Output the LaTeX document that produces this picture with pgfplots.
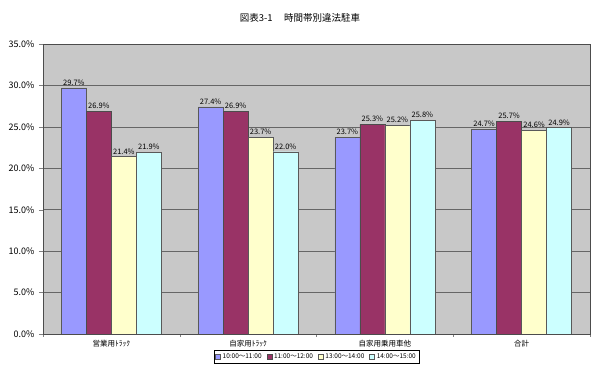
\documentclass[border=0pt]{standalone}
\usepackage{fontspec}
\setmainfont{Noto Sans CJK JP}
\usepackage{pgfplots}
\pgfplotsset{compat=1.18}
\usetikzlibrary{calc}
\definecolor{c1}{HTML}{9999FF}
\definecolor{c2}{HTML}{993366}
\definecolor{c3}{HTML}{FFFFCC}
\definecolor{c4}{HTML}{CCFFFF}
\definecolor{bg}{HTML}{C8C8C8}
\begin{document}
\begin{tikzpicture}
\begin{axis}[
  scale only axis, width=547pt, height=290pt,
  ymin=0, ymax=35, ytick={0,5,...,35},
  yticklabel={\pgfmathprintnumber[fixed,fixed zerofill,precision=1]{\tick}\%},
  yticklabel style={font=\fontsize{9}{10}\selectfont, xshift=-1pt},
  /pgf/number format/assume math mode=true,
  xmin=-0.5, xmax=3.5, xtick={0,1,2,3},
  xticklabels={営業用ﾄﾗｯｸ,自家用ﾄﾗｯｸ,自家用乗用車他,合計},
  xticklabel style={font=\fontsize{7.5}{8}\selectfont, yshift=1pt},
  major x tick style={draw=none},
  minor xtick={-0.5,0.5,1.5,2.5,3.5},
  minor tick length=3pt, major tick length=4pt,
  tick align=outside, tick pos=left,
  axis background/.style={fill=bg},
  ymajorgrids, grid style={gray!80!black, line width=0.6pt},
  axis line style={gray!60!black, line width=0.6pt},
  ybar=0pt, bar width=0.183,
  nodes near coords={\pgfmathprintnumber[fixed,fixed zerofill,precision=1]{\pgfplotspointmeta}\%},
  every node near coord/.append style={font=\fontsize{7.5}{8}\selectfont, yshift=-1pt, black},
  legend style={at={(0.5,-0.055)}, anchor=north, legend columns=4,
    font=\fontsize{6.5}{7}\selectfont, draw=black, fill=white,
    inner sep=1.5pt,
    /tikz/every even column/.append style={column sep=3pt}},
  legend image code/.code={\draw[#1] (0pt,-2.5pt) rectangle (5pt,2.5pt);},
]
\addplot[fill=c1, draw=gray!70!black] coordinates {(0,29.7) (1,27.4) (2,23.7) (3,24.7)};
\addplot[fill=c2, draw=black!70] coordinates {(0,26.9) (1,26.9) (2,25.3) (3,25.7)};
\addplot[fill=c3, draw=gray!70!black] coordinates {(0,21.4) (1,23.7) (2,25.2) (3,24.6)};
\addplot[fill=c4, draw=gray!70!black] coordinates {(0,21.9) (1,22.0) (2,25.8) (3,24.9)};
\legend{10:00～11:00,11:00～12:00,13:00～14:00,14:00～15:00}
\coordinate (SW) at (rel axis cs:0,0);
\end{axis}
\node[font=\fontsize{9.5}{11}\selectfont] at ($(SW)+(257pt,316pt)$) {図表3-1\hspace{1.2em}時間帯別違法駐車};
\pgfresetboundingbox
\path[use as bounding box] ($(SW)+(-43pt,-40pt)$) rectangle ($(SW)+(557pt,334pt)$);
\end{tikzpicture}
\end{document}
